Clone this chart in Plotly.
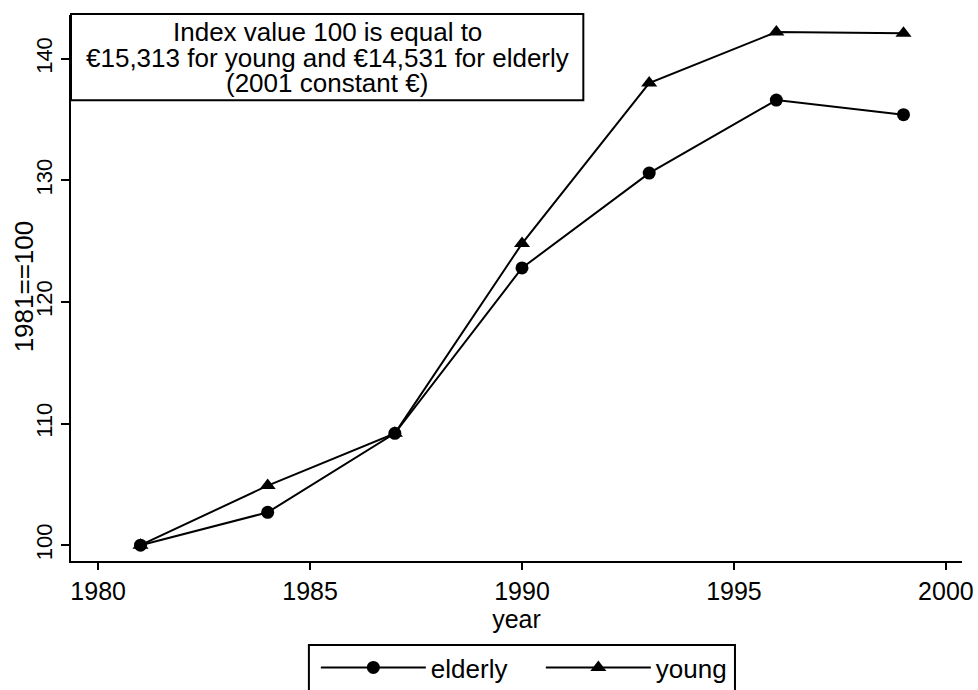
import plotly.graph_objects as go

years = [1981, 1984, 1987, 1990, 1993, 1996, 1999]
elderly = [100.0, 102.7, 109.2, 122.8, 130.6, 136.6, 135.4]
young = [100.0, 104.9, 109.2, 124.8, 138.0, 142.2, 142.1]
x_ticks = [1980, 1985, 1990, 1995, 2000]
y_ticks = [100, 110, 120, 130, 140]
note_lines = ["Index value 100 is equal to",
              "€15,313 for young and €14,531 for elderly",
              "(2001 constant €)"]
y_title = "1981==100"
x_title = "year"

FONT = "Liberation Sans, Arial, sans-serif"

fig = go.Figure()
fig.add_trace(go.Scatter(x=years, y=elderly, name="elderly", mode="lines+markers",
                         line=dict(color="black", width=2),
                         marker=dict(symbol="circle", size=13, color="black")))
fig.add_trace(go.Scatter(x=years, y=young, name="young", mode="lines+markers",
                         line=dict(color="black", width=2),
                         marker=dict(symbol="triangle-up", size=14, color="black")))

fig.update_layout(
    width=978, height=690,
    margin=dict(l=71, r=16, t=15, b=129, autoexpand=False),
    paper_bgcolor="white", plot_bgcolor="white",
    font=dict(family=FONT, size=25, color="black"),
    legend=dict(orientation="h", x=0.2748, y=-0.152, xanchor="left", yanchor="top",
                borderwidth=0, bgcolor="rgba(0,0,0,0)",
                font=dict(size=26), itemwidth=105, entrywidth=105, entrywidthmode="pixels"),
    xaxis=dict(range=[1979.36, 2000.38], tickvals=x_ticks, showgrid=False, zeroline=False,
               showline=True, linecolor="black", linewidth=2, ticks="outside",
               ticklen=7, tickwidth=2, tickcolor="black", automargin=False,
               tickfont=dict(size=25),
               title=dict(text=x_title, standoff=0, font=dict(size=25))),
    yaxis=dict(range=[98.7, 143.6], tickvals=y_ticks, showgrid=False, zeroline=False,
               showline=True, linecolor="black", linewidth=2, ticks="outside",
               ticklen=8, tickwidth=2, tickcolor="black", tickangle=-90, automargin=False,
               tickfont=dict(size=22)),
)

# y-axis title
fig.add_annotation(xref="paper", yref="paper", x=0, xshift=-47, y=0.503, xanchor="center",
                   yanchor="middle", text=y_title, textangle=-90, showarrow=False,
                   font=dict(size=26, family=FONT, color="black"))

# legend frame
fig.add_shape(type="rect", xref="paper", yref="paper", x0=0.267, x1=0.7452, y0=-0.26, y1=-0.1538,
              line=dict(color="black", width=2), fillcolor="rgba(0,0,0,0)", layer="above")

# annotation box at top-left of plot
fig.add_shape(type="rect", xref="paper", yref="paper", x0=0, x1=0.575, y0=0.844, y1=1.002,
              line=dict(color="black", width=2), fillcolor="white", layer="above")
for line_text, ypos in zip(note_lines, [0.968, 0.922, 0.875]):
    fig.add_annotation(xref="paper", yref="paper", x=0.2875, y=ypos, xanchor="center", yanchor="middle",
                       text=line_text, showarrow=False,
                       font=dict(size=26, family=FONT, color="black"))

fig.write_html("out.html", config={"displayModeBar": False},
               post_script="document.body.style.margin='0';")
